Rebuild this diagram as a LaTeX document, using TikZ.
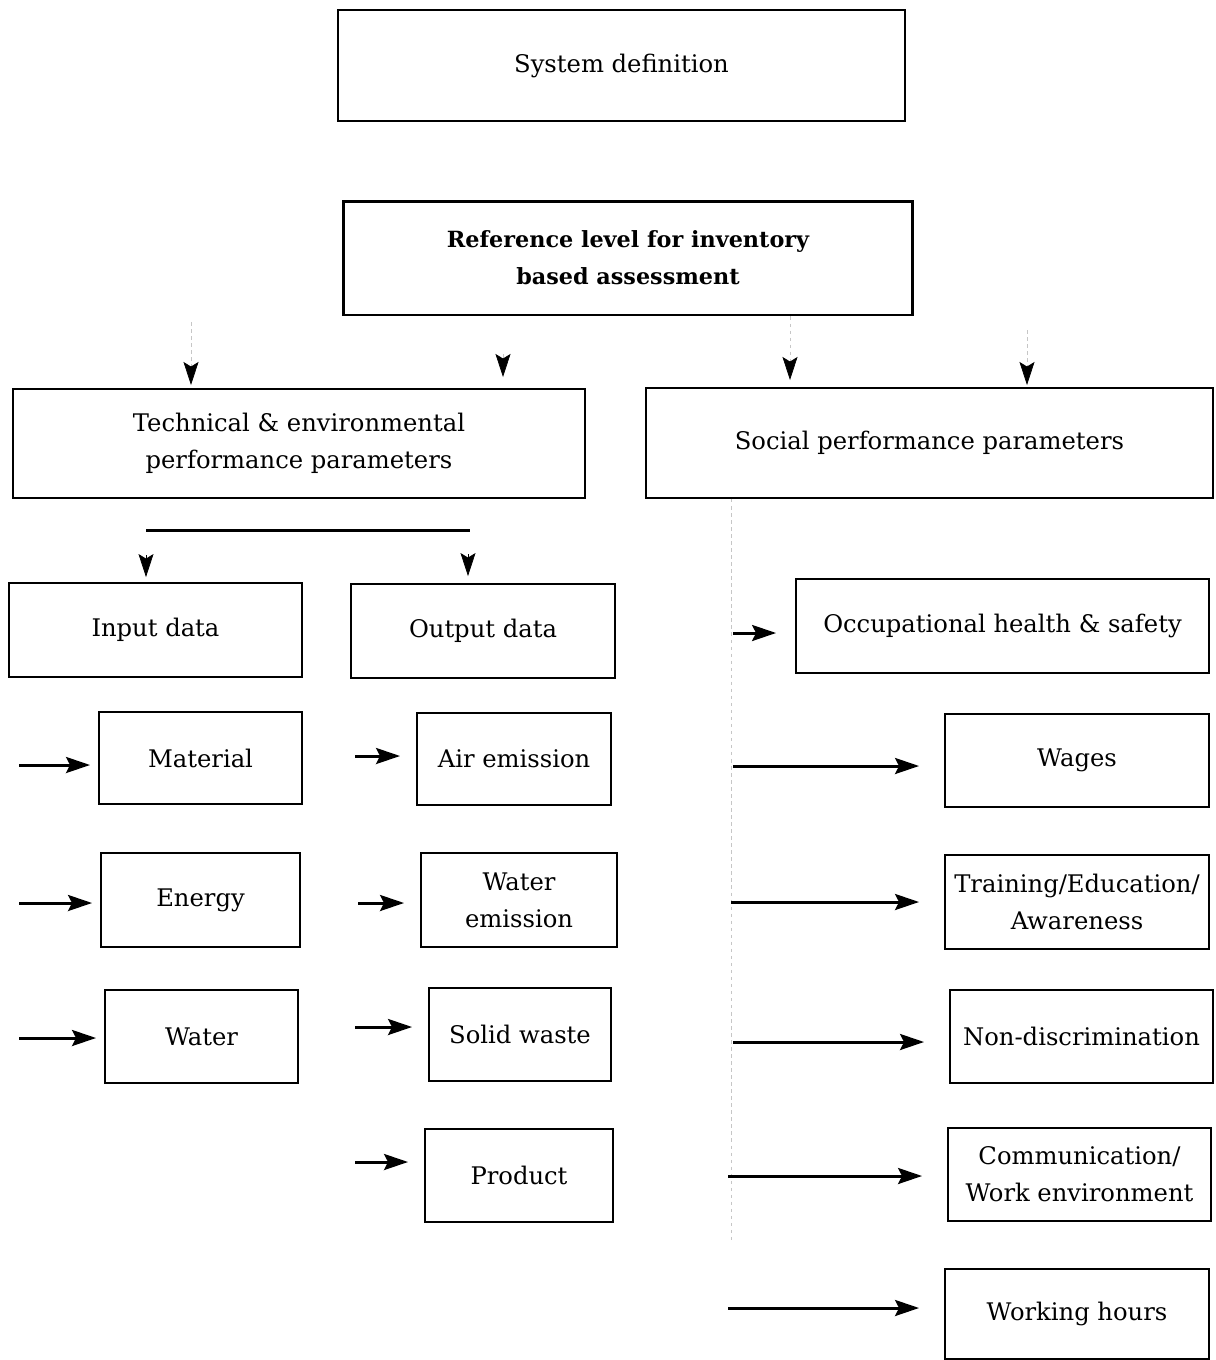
\documentclass[tikz,border=0pt]{standalone}
\usepackage{fontspec}
\setmainfont{DejaVu Serif}
\usetikzlibrary{arrows.meta}
\begin{document}
\begin{tikzpicture}[x=0.02cm,y=-0.02cm,
  bx/.style={draw, line width=1.1pt, inner sep=0pt, align=center, font=\fontsize{13.8}{21}\selectfont},
  arr/.style={line width=1.7pt, -{Stealth[length=0.48cm,width=0.32cm,inset=0.08cm]}},
  head/.style={draw=gray!45, line width=0.4pt, dash pattern=on 2pt off 2pt, -{Stealth[black,length=0.46cm,width=0.3cm,inset=0.09cm]}},
  faint/.style={draw=gray!45, line width=0.4pt, dash pattern=on 2pt off 2pt}]
\useasboundingbox (0,0) rectangle (1216,1360);
% boxes
\node[bx, minimum width=11.34cm, minimum height=2.22cm] (sys) at (621.5,65.5) {System definition};
\node[bx, line width=1.7pt, minimum width=11.4cm, minimum height=2.28cm, font=\fontsize{12.7}{21}\selectfont\bfseries] (ref) at (628,258) {Reference level for inventory\\based assessment};
\node[bx, minimum width=11.44cm, minimum height=2.18cm] (tech) at (299,443.5) {Technical \& environmental\\performance parameters};
\node[bx, minimum width=11.34cm, minimum height=2.2cm] (soc) at (929.5,443) {Social performance parameters};
\node[bx, minimum width=5.86cm, minimum height=1.88cm] (inp) at (155.5,630) {Input data};
\node[bx, minimum width=5.28cm, minimum height=1.88cm] (out) at (483,631) {Output data};
\node[bx, minimum width=8.26cm, minimum height=1.88cm] (occ) at (1002.5,626) {Occupational health \& safety};
\node[bx, minimum width=4.06cm, minimum height=1.84cm] (mat) at (200.5,758) {Material};
\node[bx, minimum width=3.88cm, minimum height=1.84cm] (air) at (514,759) {Air emission};
\node[bx, minimum width=3.98cm, minimum height=1.88cm] (ene) at (200.5,900) {Energy};
\node[bx, minimum width=3.92cm, minimum height=1.88cm] (wem) at (519,900) {Water\\emission};
\node[bx, minimum width=3.86cm, minimum height=1.86cm] (wat) at (201.5,1036.5) {Water};
\node[bx, minimum width=3.64cm, minimum height=1.86cm] (sol) at (520,1034.5) {Solid waste};
\node[bx, minimum width=3.76cm, minimum height=1.86cm] (pro) at (519,1175.5) {Product};
\node[bx, minimum width=5.28cm, minimum height=1.86cm] (wag) at (1077,760.5) {Wages};
\node[bx, minimum width=5.28cm, minimum height=1.88cm] (tra) at (1077,902) {Training/Education/\\Awareness};
\node[bx, minimum width=5.26cm, minimum height=1.86cm] (non) at (1081.5,1036.5) {Non-discrimination};
\node[bx, minimum width=5.26cm, minimum height=1.86cm] (com) at (1079.5,1174.5) {Communication/\\Work environment};
\node[bx, minimum width=5.28cm, minimum height=1.8cm] (wor) at (1077,1314) {Working hours};
% top down arrows
\coordinate (t1) at (191,322); \coordinate (h1) at (191,385);
\draw[head] (t1) -- (h1);
\coordinate (t2) at (503,354); \coordinate (h2) at (503,377);
\draw[head] (t2) -- (h2);
\coordinate (h3) at (790,380);
\draw[head] (ref.south -| h3) -- (h3);
\coordinate (t4) at (1027,330); \coordinate (h4) at (1027,385);
\draw[head] (t4) -- (h4);
% split bar
\coordinate (b1) at (146,530); \coordinate (b2) at (470,530);
\draw[line width=1.7pt] (b1) -- (b2);
\coordinate (g1) at (146,555); \coordinate (g2) at (468,554);
\draw[head, draw=black] (g1) -- ([yshift=0.1cm]inp.north -| g1);
\draw[head, draw=black] (g2) -- ([yshift=0.14cm]out.north -| g2);
% input arrows
\foreach \y/\n in {765/mat,903/ene,1038/wat}{
  \coordinate (l\n) at (19,\y);
  \draw[arr, shorten >=0.16cm] (l\n) -- (l\n -| \n.west);
}
% output arrows
\foreach \y/\x/\n in {756/355/air,903/358/wem,1027/355/sol,1162/355/pro}{
  \coordinate (o\n) at (\x,\y);
  \draw[arr, shorten >=0.32cm] (o\n) -- (o\n -| \n.west);
}
% social arrows
\coordinate (s0) at (731,498); \coordinate (s1) at (731,1240);
\draw[faint] (soc.south -| s0) -- (s1);
\coordinate (socc) at (733,633);
\draw[arr, shorten >=0.38cm] (socc) -- (socc -| occ.west);
\foreach \y/\x/\n in {766/733/wag,902/731/tra,1042/733/non,1176/728/com,1308/728/wor}{
  \coordinate (r\n) at (\x,\y);
  \draw[arr, shorten >=0.5cm] (r\n) -- (r\n -| \n.west);
}
\end{tikzpicture}
\end{document}
